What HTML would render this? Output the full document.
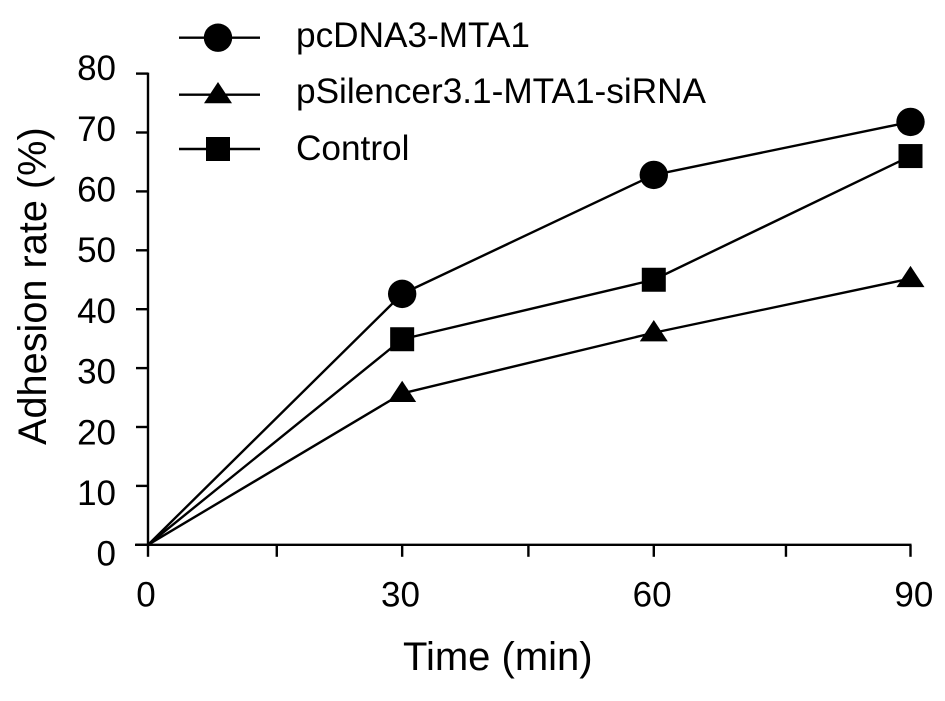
<!DOCTYPE html>
<html lang="en">
<head>
<meta charset="utf-8">
<title>Adhesion rate chart</title>
<style>
html,body{margin:0;padding:0;background:#fff;}
svg{display:block;}
text{font-family:"Liberation Sans",Arial,sans-serif;fill:#000;}
</style>
</head>
<body>
<svg id="chart" xmlns="http://www.w3.org/2000/svg" width="945" height="701" viewBox="0 0 945 701">
  <rect width="945" height="701" fill="#fff"/>
  <g id="axes"></g>
  <g id="series"></g>
  <g id="legend"></g>
  <text transform="translate(46,445) rotate(-90)" font-size="39.7">Adhesion rate (%)</text>
  <text x="403" y="670" font-size="40">Time (min)</text>
</svg>
<script>
// Data
const sampleMinutes = [0, 30, 59.7, 90];
const circleValues = [0, 42.6, 62.8, 71.8];
const triangleValues = [0, 25.7, 36.0, 45.2];
const squareValues = [0, 34.9, 45.0, 66.0];
const xTickMinutes = [0, 15.2, 30, 44.9, 59.7, 75.3, 90];
const xLabelMinutes = [-0.24, 29.8, 59.5, 90.4];
const xLabels = ['0', '30', '60', '90'];
const yTicks = [0, 10, 20, 30, 40, 50, 60, 70, 80];
const seriesNames = ['pcDNA3-MTA1', 'pSilencer3.1-MTA1-siRNA', 'Control'];

const NS = 'http://www.w3.org/2000/svg';
const xScale = m => 148 + m * (910.5 - 148) / 90;
const yScale = v => 544.8 - v * 5.89;
const yLabelBaseline = v => 565.7 - v * 6.07;

function make(parent, tag, attrs) {
  const el = document.createElementNS(NS, tag);
  for (const k in attrs) el.setAttribute(k, attrs[k]);
  parent.appendChild(el);
  return el;
}

const axes = document.getElementById('axes');
const axisStroke = { stroke: '#000', 'stroke-width': 2.4, fill: 'none' };

const yAxis = make(axes, 'line', { x1: xScale(0), x2: xScale(0), y1: yScale(80) - 1, y2: yScale(0), ...axisStroke });



const xAxis = make(axes, 'line', { x1: 135, x2: xScale(90) + 1, y1: yScale(0), y2: yScale(0), ...axisStroke });



yTicks.forEach(v => {
  const tick = make(axes, 'line', { x1: 136, x2: xScale(0), y1: yScale(v), y2: yScale(v), ...axisStroke });
  
  
  const label = make(axes, 'text', { x: 116, y: yLabelBaseline(v), 'text-anchor': 'end', 'font-size': 35 });
  
  
  label.textContent = String(v);
});

xTickMinutes.forEach(m => {
  const tick = make(axes, 'line', { x1: xScale(m), x2: xScale(m), y1: yScale(0), y2: yScale(0) + 12, ...axisStroke });
  
  
});

xLabelMinutes.forEach((m, i) => {
  const label = make(axes, 'text', { x: xScale(m), y: 606.5, 'text-anchor': 'middle', 'font-size': 35 });
  
  
  label.textContent = xLabels[i];
});

function drawMarker(parent, kind, cx, cy) {
  let el;
  if (kind === 'circle') {
    el = make(parent, 'circle', { cx: cx, cy: cy, r: 14.2, fill: '#000' });
  } else if (kind === 'triangle') {
    el = make(parent, 'polygon', {
      points: [[cx, cy - 12.7], [cx - 14, cy + 8.6], [cx + 14, cy + 8.6]].map(p => p.join(',')).join(' '),
      fill: '#000'
    });
  } else {
    el = make(parent, 'rect', { x: cx - 12, y: cy - 12, width: 24, height: 24, fill: '#000' });
  }
  return el;
}

const seriesRoot = document.getElementById('series');
function drawSeries(values, kind, name) {
  const g = make(seriesRoot, 'g', {});
  
  
  const line = make(g, 'polyline', {
    points: values.map((v, i) => xScale(sampleMinutes[i]) + ',' + yScale(v)).join(' '),
    fill: 'none', stroke: '#000', 'stroke-width': 2.4, 'stroke-linejoin': 'round'
  });
  
  
  values.forEach((v, i) => {
    if (i === 0) return;
    const marker = drawMarker(g, kind, xScale(sampleMinutes[i]), yScale(v));
    
    
  });
}
drawSeries(circleValues, 'circle', 'pcdna3-mta1');
drawSeries(triangleValues, 'triangle', 'psilencer-sirna');
drawSeries(squareValues, 'square', 'control');

const legendRoot = document.getElementById('legend');
const legendKinds = ['circle', 'triangle', 'square'];
const legendY = [37.7, 94.7, 149];
const legendTextY = [47, 103, 160];
seriesNames.forEach((name, i) => {
  const entry = make(legendRoot, 'g', {});
  
  
  const swatch = make(entry, 'line', { x1: 179, x2: 260, y1: legendY[i], y2: legendY[i], stroke: '#000', 'stroke-width': 2.4 });
  
  
  const marker = drawMarker(entry, legendKinds[i], 218, legendY[i]);
  
  
  const label = make(entry, 'text', { x: 296, y: legendTextY[i], 'font-size': 35.2 });
  
  
  label.textContent = name;
});
</script>
</body>
</html>
